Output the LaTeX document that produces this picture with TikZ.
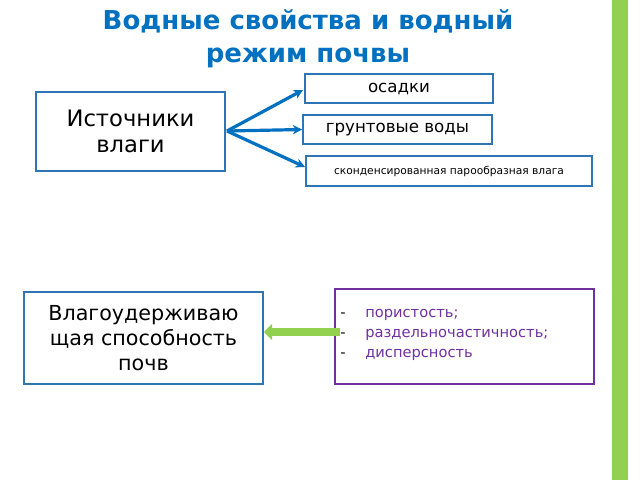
\documentclass[tikz,border=0pt]{standalone}
\usepackage{fontspec}
\setmainfont{DejaVu Sans}
\usetikzlibrary{arrows.meta}
\definecolor{tblue}{RGB}{0,112,192}
\definecolor{bblue}{RGB}{46,117,182}
\definecolor{gbar}{RGB}{146,208,80}
\definecolor{purp}{RGB}{112,48,160}
\begin{document}
\begin{tikzpicture}[x=0.75pt,y=-0.75pt,
 box/.style={draw=bblue,line width=1.3pt,fill=white,inner sep=0pt},
 arr/.style={draw=tblue,line width=2.4pt,-{Stealth[length=7pt,width=7pt]}}]
\useasboundingbox (0,0) rectangle (640,480);
\fill[gbar] (612,0) rectangle (628,480);
\node[text=tblue,font=\bfseries\fontsize{19.5}{25}\selectfont,align=center] (title) at (308,39) {Водные свойства и водный\\режим почвы};
\node[box,minimum width=189*0.75pt,minimum height=79*0.75pt,align=center,font=\fontsize{17}{20}\selectfont] (src) at (130.5,131.5) {Источники\\влаги};
\node[box,minimum width=188*0.75pt,minimum height=29*0.75pt,font=\fontsize{12.5}{14}\selectfont] (a) at (399,88.5) {осадки};
\node[box,minimum width=189*0.75pt,minimum height=29*0.75pt,font=\fontsize{12.5}{14}\selectfont] (b) at (397.5,129.5) {грунтовые воды};
\node[box,minimum width=286*0.75pt,minimum height=30*0.75pt,font=\fontsize{8}{9}\selectfont] (c) at (449,171) {сконденсированная парообразная влага};
\coordinate (o) at (227,131);
\draw[arr] (o) -- (303,90);
\draw[arr] (o) -- (b.west);
\draw[arr] (o) -- (305,167);
\node[box,minimum width=239*0.75pt,minimum height=92*0.75pt,align=center,font=\fontsize{15.5}{19}\selectfont] (w) at (143.5,338) {Влагоудерживаю\\щая способность\\почв};
\node[draw=purp,line width=1.3pt,minimum width=259*0.75pt,minimum height=95*0.75pt] (p) at (464.5,336.5) {};
\node[anchor=north west,text=purp,font=\fontsize{11}{15}\selectfont,align=left,inner sep=0pt] (pt) at (340,309)
 {\makebox[18.75pt][l]{\textcolor{black}{-}}пористость;\\\makebox[18.75pt][l]{\textcolor{black}{-}}раздельночастичность;\\\makebox[18.75pt][l]{\textcolor{black}{-}}дисперсность};
\coordinate (gs) at (340,332);
\coordinate (ge) at (264,332);
\draw[draw=gbar,line width=6pt,-{Triangle[length=6pt,width=12pt]}] (gs) -- (ge);
\end{tikzpicture}
\end{document}
